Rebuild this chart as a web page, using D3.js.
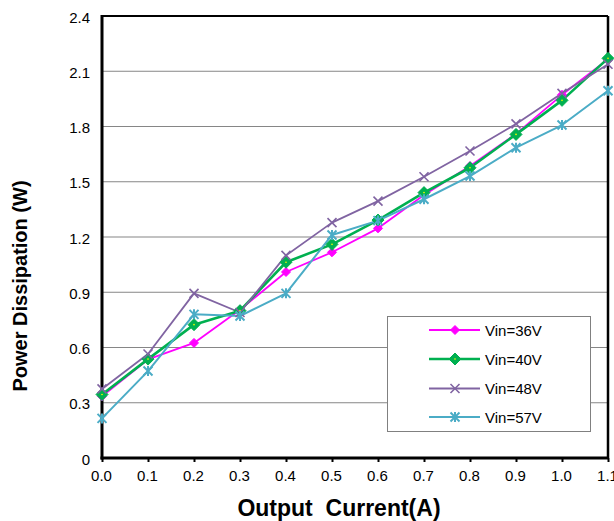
<!DOCTYPE html>
<html>
<head>
<meta charset="utf-8">
<script src="https://d3js.org/d3.v7.min.js"></script>
<style>
html,body{margin:0;padding:0;background:#fff;}
svg{display:block;font-family:"Liberation Sans",Arial,sans-serif;}
</style>
</head>
<body>
<svg id="chart" width="614" height="521"></svg>
<script>
const currents = [0.0,0.1,0.2,0.3,0.4,0.5,0.6,0.7,0.8,0.9,1.0,1.1];
const vin36 = [0.335,0.535,0.625,0.805,1.010,1.117,1.247,1.428,1.585,1.760,1.972,2.165];
const vin40 = [0.345,0.537,0.724,0.800,1.063,1.160,1.292,1.441,1.576,1.757,1.942,2.170];
const vin48 = [0.375,0.565,0.894,0.790,1.100,1.278,1.395,1.527,1.667,1.814,1.980,2.138];
const vin57 = [0.215,0.472,0.780,0.771,0.894,1.211,1.289,1.405,1.531,1.685,1.808,1.994];
const seriesNames = ["Vin=36V","Vin=40V","Vin=48V","Vin=57V"];
const xTicks = [0.0,0.1,0.2,0.3,0.4,0.5,0.6,0.7,0.8,0.9,1.0,1.1];
const yTicks = [0,0.3,0.6,0.9,1.2,1.5,1.8,2.1,2.4];

const series = [
  {name:seriesNames[0], values:vin36, color:"#FF00FF", width:1.8, marker:"diamondS"},
  {name:seriesNames[1], values:vin40, color:"#00B050", width:2.6, marker:"diamondL"},
  {name:seriesNames[2], values:vin48, color:"#8064A2", width:1.8, marker:"x"},
  {name:seriesNames[3], values:vin57, color:"#4BACC6", width:2.0, marker:"star"}
];

const L=102, R=608, T=16, B=458;
const FONT = "'Liberation Sans', Arial, sans-serif";
const svg = d3.select("#chart");
const x = d3.scaleLinear().domain([0,1.1]).range([L,R]);
const y = d3.scaleLinear().domain([0,2.4]).range([B,T]);

// gridlines
svg.append("g").selectAll("line").data(yTicks.filter(v=>v>0 && v<2.4)).join("line")
  .attr("x1",L).attr("x2",R).attr("y1",d=>y(d)).attr("y2",d=>y(d))
  .attr("stroke","#868686").attr("stroke-width",1.2);

// frame top/right
svg.append("line").attr("x1",L).attr("x2",R).attr("y1",T).attr("y2",T).attr("stroke","#000").attr("stroke-width",2);
svg.append("line").attr("x1",R).attr("x2",R).attr("y1",T).attr("y2",B).attr("stroke","#000").attr("stroke-width",2.5);

// x axis
const xAxis = d3.axisBottom(x).tickValues(xTicks).tickFormat(d3.format(".1f")).tickSize(4).tickPadding(8);
const gx = svg.append("g").attr("transform",`translate(0,${B})`).call(xAxis);
gx.attr("font-family",FONT);
gx.select(".domain").attr("stroke","#000").attr("stroke-width",3).attr("d",`M${L-1.5},0H${R+1}`);
gx.selectAll(".tick line").attr("stroke","#000").attr("stroke-width",2);
gx.selectAll(".tick text").attr("font-size",15).attr("fill","#000").attr("dx",-1);

// y axis
const yAxis = d3.axisLeft(y).tickValues(yTicks).tickFormat(d=>d===0?"0":d3.format(".1f")(d)).tickSize(0).tickPadding(12);
const gy = svg.append("g").attr("transform",`translate(${L},0)`).call(yAxis);
gy.attr("font-family",FONT);
gy.select(".domain").attr("stroke","#000").attr("stroke-width",3).attr("d",`M0,${B+1.5}V${T-1}`);
gy.selectAll(".tick text").attr("font-size",15).attr("fill","#000").attr("dy","0.4em");

// titles
svg.append("text").attr("x",339).attr("y",516).attr("text-anchor","middle")
  .attr("font-size",23).attr("font-weight","bold").attr("font-family",FONT)
  .style("white-space","pre").text("Output  Current(A)");
svg.append("text").attr("transform","translate(27,286) rotate(-90)").attr("text-anchor","middle")
  .attr("font-size",20).attr("font-weight","bold").attr("font-family",FONT).text("Power Dissipation (W)");

function drawMarker(g, type, color, cx, cy){
  if(type==="diamondS"){
    g.append("path").attr("d",`M${cx},${cy-4.5}L${cx+4.5},${cy}L${cx},${cy+4.5}L${cx-4.5},${cy}Z`).attr("fill",color).attr("stroke",color);
  } else if(type==="diamondL"){
    g.append("path").attr("d",`M${cx},${cy-6}L${cx+6},${cy}L${cx},${cy+6}L${cx-6},${cy}Z`).attr("fill",color).attr("stroke",color).attr("stroke-width",1);
    g.append("circle").attr("cx",cx).attr("cy",cy).attr("r",0.8).attr("fill","#FFFF00");
  } else if(type==="x"){
    const s=4.5;
    g.append("path").attr("d",`M${cx-s},${cy-s}L${cx+s},${cy+s}M${cx-s},${cy+s}L${cx+s},${cy-s}`).attr("stroke",color).attr("stroke-width",1.6).attr("fill","none");
  } else if(type==="star"){
    const s=4.5;
    g.append("path").attr("d",`M${cx-s},${cy-s}L${cx+s},${cy+s}M${cx-s},${cy+s}L${cx+s},${cy-s}M${cx},${cy-s-0.5}L${cx},${cy+s+0.5}`).attr("stroke",color).attr("stroke-width",2).attr("fill","none");
  }
}

const line = d3.line().x(d=>x(d[0])).y(d=>y(d[1]));
series.forEach(s=>{
  const pts = currents.map((c,i)=>[c,s.values[i]]);
  svg.append("path").datum(pts).attr("d",line).attr("fill","none").attr("stroke",s.color).attr("stroke-width",s.width).attr("stroke-linejoin","round");
});
series.forEach(s=>{
  const g = svg.append("g");
  currents.forEach((c,i)=>drawMarker(g,s.marker,s.color,x(c),y(s.values[i])));
});

// legend
const lg = svg.append("g").attr("font-family",FONT);
lg.append("rect").attr("x",387.5).attr("y",316.5).attr("width",203).attr("height",115)
  .attr("fill","#fff").attr("stroke","#808080").attr("stroke-width",1);
const legY = [330,359,388.5,417];
series.forEach((s,i)=>{
  lg.append("line").attr("x1",429).attr("x2",480).attr("y1",legY[i]).attr("y2",legY[i]).attr("stroke",s.color).attr("stroke-width",s.width);
  drawMarker(lg,s.marker,s.color,455,legY[i]);
  lg.append("text").attr("x",485).attr("y",legY[i]+5.5).attr("font-size",15).text(s.name);
});
</script>
</body>
</html>
